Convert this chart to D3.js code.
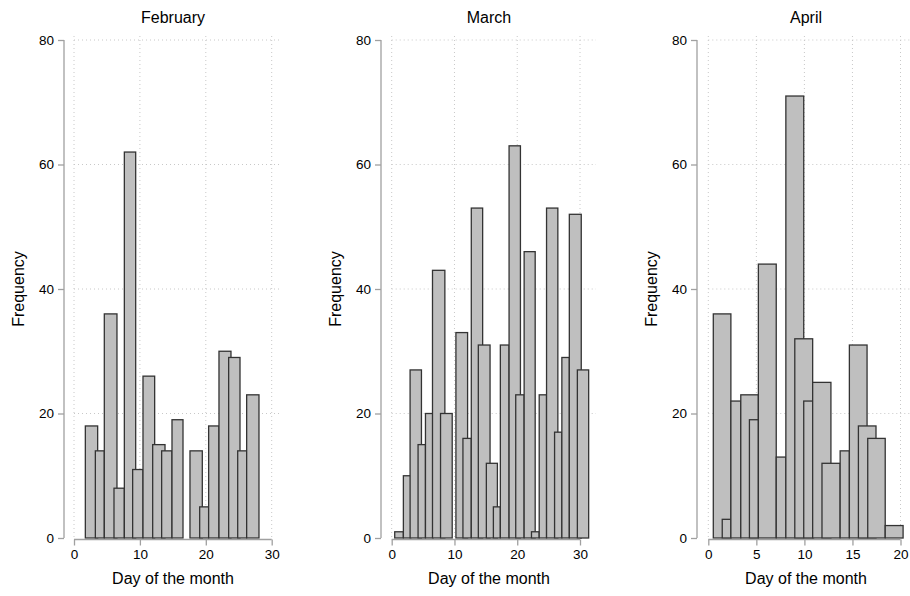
<!DOCTYPE html>
<html>
<head>
<meta charset="utf-8">
<script src="https://cdn.jsdelivr.net/npm/d3@7/dist/d3.min.js"></script>
<style>
  html, body { margin: 0; padding: 0; background: #ffffff; }
  svg { display: block; font-family: "Liberation Sans", Arial, Helvetica, sans-serif; }
</style>
</head>
<body>
<svg id="chart" width="910" height="596"></svg>
<script>
// ---- Data ----
const monthTitles = ["February", "March", "April"];
const yTicks = [0, 20, 40, 60, 80];
const febTicks = [0, 10, 20, 30];
const marTicks = [0, 10, 20, 30];
const aprTicks = [0, 5, 10, 15, 20];

// bar left edge, right edge (day of month) and frequency
const febStart = [1.72, 3.24, 4.60, 6.07, 7.64, 8.90, 10.47, 11.94, 13.30, 14.87, 17.60, 19.07, 20.43, 22.00, 23.47, 24.84, 26.20];
const febEnd   = [3.59, 4.60, 6.52, 7.64, 9.36, 10.47, 12.24, 13.81, 14.87, 16.54, 19.47, 20.43, 22.00, 23.82, 25.19, 26.20, 28.07];
const febFreq  = [18, 14, 36, 8, 62, 11, 26, 15, 14, 19, 14, 5, 18, 30, 29, 14, 23];

const marStart = [0.48, 1.86, 2.93, 4.20, 5.38, 6.50, 7.78, 10.23, 11.35, 12.68, 13.80, 15.08, 16.20, 17.31, 18.70, 19.76, 21.10, 22.27, 23.50, 24.67, 25.95, 27.11, 28.30, 29.58];
const marEnd   = [1.86, 3.04, 4.74, 5.38, 6.60, 8.47, 9.64, 12.09, 12.68, 14.49, 15.67, 16.84, 17.31, 18.70, 20.51, 21.10, 22.86, 23.50, 24.67, 26.47, 27.11, 28.30, 30.20, 31.38];
const marFreq  = [1, 10, 27, 15, 20, 43, 20, 33, 16, 53, 31, 12, 5, 31, 63, 23, 46, 1, 23, 53, 17, 29, 52, 27];

const aprStart = [0.52, 1.45, 2.35, 3.38, 4.28, 5.21, 7.07, 8.07, 9.00, 9.93, 10.86, 11.83, 13.72, 14.68, 15.62, 16.59, 18.41];
const aprEnd   = [2.35, 2.35, 3.38, 5.21, 5.21, 7.07, 8.07, 9.93, 10.86, 10.96, 12.76, 13.72, 14.68, 16.52, 17.45, 18.41, 20.27];
const aprFreq  = [36, 3, 22, 23, 19, 44, 13, 71, 32, 22, 25, 12, 14, 31, 18, 16, 2];

const xTitle = "Day of the month";
const yTitle = "Frequency";

// ---- Layout ----
const panels = [
  { title: monthTitles[0], ticks: febTicks, start: febStart, end: febEnd, freq: febFreq,
    axisX: 64, x0: 74, x1: 271.7, right: 279, center: 173, yLabX: 18 },
  { title: monthTitles[1], ticks: marTicks, start: marStart, end: marEnd, freq: marFreq,
    axisX: 381, x0: 391.7, x1: 580, right: 596, center: 489, yLabX: 335 },
  { title: monthTitles[2], ticks: aprTicks, start: aprStart, end: aprEnd, freq: aprFreq,
    axisX: 697, x0: 708.3, x1: 900.5, right: 910, center: 806, yLabX: 651 }
];

const yBottom = 538, yTop = 40;
const svg = d3.select("#chart");
const y = d3.scaleLinear().domain([0, 80]).range([yBottom, yTop]);

const gridColor = "#c8c8c8";
const axisColor = "#a0a0a0";

panels.forEach(p => {
  const maxTick = p.ticks[p.ticks.length - 1];
  const x = d3.scaleLinear().domain([0, maxTick]).range([p.x0, p.x1]);
  const g = svg.append("g");

  // horizontal gridlines
  g.selectAll("line.hgrid").data(yTicks.filter(v => v > 0)).join("line")
    .attr("x1", p.x0).attr("x2", p.right)
    .attr("y1", d => y(d)).attr("y2", d => y(d))
    .attr("stroke", gridColor).attr("stroke-width", 1).attr("stroke-dasharray", "1,3");
  // vertical gridlines
  g.selectAll("line.vgrid").data(p.ticks).join("line")
    .attr("x1", d => x(d)).attr("x2", d => x(d))
    .attr("y1", y(80) - 4).attr("y2", y(0))
    .attr("stroke", gridColor).attr("stroke-width", 1).attr("stroke-dasharray", "1,3");

  // bars
  const bars = p.freq.map((f, i) => ({ s: p.start[i], e: p.end[i], f }));
  g.selectAll("rect.bar").data(bars).join("rect")
    .attr("x", d => x(d.s))
    .attr("width", d => x(d.e) - x(d.s))
    .attr("y", d => y(d.f))
    .attr("height", d => y(0) - y(d.f))
    .attr("fill", "#bfbfbf")
    .attr("stroke", "#333333")
    .attr("stroke-width", 1.3);

  // y axis
  const yAxis = d3.axisLeft(y).tickValues(yTicks).tickSize(6).tickPadding(4);
  const ya = g.append("g").attr("transform", `translate(${p.axisX},0)`).call(yAxis);
  ya.select(".domain").attr("stroke", axisColor).attr("stroke-width", 1.3).attr("d", `M0,${y(0)}V${y(80)}`);
  ya.selectAll(".tick line").attr("stroke", axisColor).attr("stroke-width", 1.3);
  ya.selectAll(".tick text").attr("font-size", 13.5).attr("fill", "#000")
    .attr("font-family", "'Liberation Sans', Arial, sans-serif");

  // x axis
  const xAxis = d3.axisBottom(x).tickValues(p.ticks).tickSize(6).tickPadding(4);
  const xa = g.append("g").attr("transform", `translate(0,${yBottom + 1.5})`).call(xAxis);
  xa.select(".domain").attr("stroke", axisColor).attr("stroke-width", 1.3).attr("d", `M${x(0)},0H${x(maxTick)}`);
  xa.selectAll(".tick line").attr("stroke", axisColor).attr("stroke-width", 1.3);
  xa.selectAll(".tick text").attr("font-size", 13.5).attr("fill", "#000")
    .attr("font-family", "'Liberation Sans', Arial, sans-serif");

  // titles
  g.append("text").attr("x", p.center).attr("y", 23)
    .attr("text-anchor", "middle").attr("font-size", 16).attr("fill", "#000").text(p.title);
  g.append("text").attr("x", p.center).attr("y", 584)
    .attr("text-anchor", "middle").attr("font-size", 16).attr("fill", "#000").text(xTitle);
  g.append("text")
    .attr("transform", `translate(${p.yLabX + 6},289) rotate(-90)`)
    .attr("text-anchor", "middle").attr("font-size", 16).attr("fill", "#000").text(yTitle);
});
</script>
</body>
</html>
